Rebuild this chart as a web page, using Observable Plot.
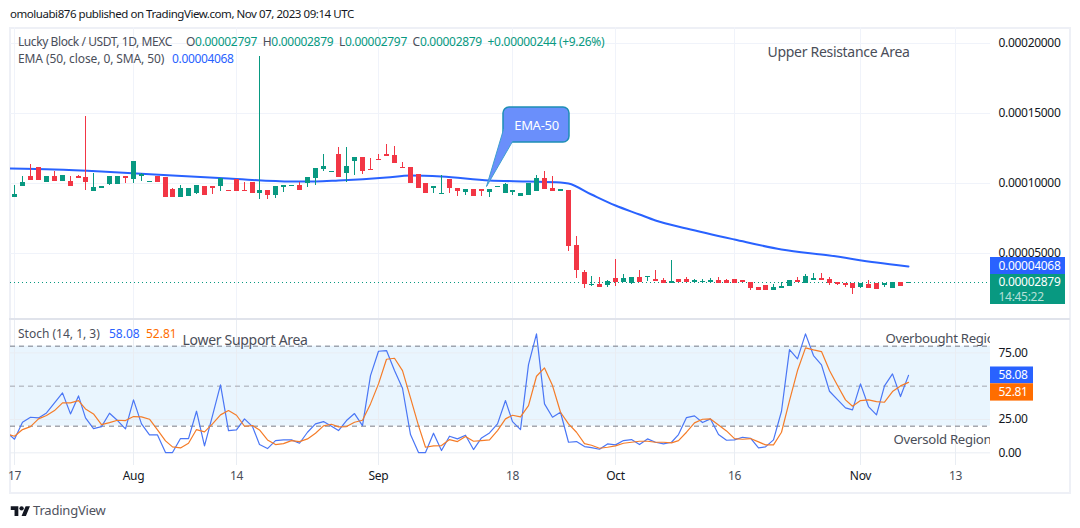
<!DOCTYPE html>
<html>
<head>
<meta charset="utf-8">
<script src="https://cdn.jsdelivr.net/npm/d3@7"></script>
<script src="https://cdn.jsdelivr.net/npm/@observablehq/plot@0.6"></script>
<style>
html,body{margin:0;padding:0;background:#fff;width:1080px;height:528px;overflow:hidden}
body{font-family:"Noto Sans",sans-serif;color:#131722;position:relative}
.abs{position:absolute;white-space:pre;line-height:16px}
svg{background:transparent !important}
</style>
</head>
<body>
<div class="abs" style="left:10px;top:6px;font-size:11.5px;letter-spacing:-0.45px;color:#131722">omoluabi876 published on TradingView.com, Nov 07, 2023 09:14 UTC</div>
<div id="frame" style="position:absolute;left:9px;top:27px;width:1058px;height:463px;border:2px solid #eef0f6"></div>
<div id="p1"></div>
<div id="p2"></div>
<div class="abs" style="left:18px;top:34px;font-size:12px;letter-spacing:-0.42px;color:#4a4e59">Lucky Block / USDT, 1D, MEXC</div>
<div class="abs" style="left:186px;top:34px;font-size:12px;letter-spacing:-0.3px;color:#089981"><span style="color:#4a4e59">O</span>0.00002797  <span style="color:#4a4e59">H</span>0.00002879  <span style="color:#4a4e59">L</span>0.00002797  <span style="color:#4a4e59">C</span>0.00002879  +0.00000244 (+9.26%)</div>
<div class="abs" style="left:18px;top:51px;font-size:12px;letter-spacing:-0.1px;color:#4a4e59">EMA (50, close, 0, SMA, 50)</div>
<div class="abs" style="left:172px;top:51px;font-size:12px;letter-spacing:-0.35px;color:#2962ff">0.00004068</div>
<div class="abs" style="left:18px;top:326px;font-size:12px;color:#4a4e59">Stoch (14, 1, 3)</div>
<div class="abs" style="left:109px;top:326px;font-size:12px;color:#2962ff">58.08</div>
<div class="abs" style="left:146px;top:326px;font-size:12px;color:#ff6d00">52.81</div>
<svg style="position:absolute;left:10px;top:504px" width="21" height="13" viewBox="0 0 36 24"><path fill="#131722" d="M14 22H7V11H0V4h14v18zM28 22h-8l7.5-18h8L28 22z"/><circle fill="#131722" cx="20" cy="8" r="4"/></svg>
<div class="abs" style="left:33px;top:502px;font-size:13px;letter-spacing:-0.2px;color:#50535e">TradingView</div>
<script>
// Candles, in units of 0.00001 USDT, one per day from 2023-07-17
const opens = [
9.01,9.80,10.49,11.14,10.09,10.49,10.16,10.11,10.49,10.42,
9.44,9.66,9.92,9.92,10.49,10.28,10.49,10.06,10.49,10.45,
9.56,9.01,9.06,9.27,9.78,9.78,9.78,9.49,10.28,9.49,
10.06,9.27,9.49,9.16,9.71,9.78,9.85,9.99,10.35,11.00,
10.81,12.07,10.71,11.57,11.86,11.00,11.71,12.07,12.00,11.14,
11.14,10.64,9.99,9.63,9.20,10.28,9.63,9.35,9.56,9.56,
9.35,9.71,9.27,9.35,9.06,9.13,9.42,10.35,9.63,9.42,
9.49,5.54,3.61,2.68,2.75,2.70,3.17,2.89,2.84,3.25,
3.25,3.10,3.03,2.82,3.10,3.10,2.89,2.89,2.89,3.03,
3.03,3.10,3.03,2.89,2.53,2.67,2.31,2.46,2.60,3.03,
2.82,3.03,3.17,3.10,2.89,2.82,2.82,2.53,2.74,2.82,
2.67,2.46,2.89,2.797];
const closes = [
9.20,10.06,10.21,10.21,10.49,10.16,10.57,9.80,10.37,10.09,
9.71,9.75,10.49,10.49,10.37,11.57,10.66,10.14,10.06,9.01,
9.01,9.61,9.63,9.82,9.16,9.66,10.37,9.42,9.44,9.42,
9.27,9.49,9.16,9.78,9.85,9.85,9.49,10.42,11.07,11.21,
10.88,10.42,11.21,11.86,10.85,10.92,11.64,11.93,11.43,11.07,
9.99,9.63,9.27,9.78,9.27,9.63,9.42,9.56,9.06,9.42,
9.56,9.78,9.92,9.49,9.27,9.99,10.35,9.56,9.42,9.56,
5.47,3.75,2.75,2.75,2.53,2.98,2.89,3.17,3.25,2.89,
3.32,2.96,2.82,2.96,2.89,2.89,3.03,2.96,3.03,2.82,
2.82,2.82,2.89,2.46,2.31,2.31,2.53,2.60,3.03,2.89,
3.32,3.17,3.03,2.82,2.74,2.67,2.46,2.82,2.46,2.38,
2.82,2.89,2.60,2.879];
const highs = [
9.85,10.49,11.36,11.14,10.49,10.88,10.57,10.49,10.57,14.80,
10.73,9.75,10.49,10.49,10.49,11.57,10.73,10.14,10.49,10.45,
9.61,9.85,9.63,9.82,9.78,9.78,10.37,9.49,10.28,10.09,
10.06,19.10,9.49,9.78,9.85,9.85,10.09,10.42,11.07,12.07,
10.88,12.58,12.58,11.86,11.86,11.79,12.07,12.79,12.65,11.50,
11.14,10.64,9.99,9.78,10.57,10.28,9.63,9.56,9.56,9.56,
9.56,9.78,9.99,9.49,9.27,9.99,10.57,10.85,10.49,9.56,
9.49,6.19,3.75,3.32,3.25,3.05,4.54,3.46,3.25,3.75,
3.32,3.75,3.17,4.47,3.10,3.25,3.10,3.10,3.17,3.25,
3.10,3.10,3.03,2.89,2.53,2.67,2.74,2.89,3.03,3.25,
3.46,3.53,3.53,3.25,2.89,2.82,2.82,2.82,3.03,2.82,
2.82,2.89,2.89,2.879];
const lows = [
9.01,9.80,10.21,10.21,10.09,10.16,10.16,9.80,10.37,9.49,
9.44,9.66,9.82,9.92,10.02,10.02,10.14,10.06,10.06,9.01,
9.01,9.01,9.06,9.20,9.16,9.20,9.44,9.42,9.44,9.42,
9.27,8.84,8.84,8.92,9.35,9.78,9.49,9.71,9.85,10.85,
10.81,10.42,10.06,10.57,10.64,10.92,11.64,11.93,11.43,11.07,
9.99,9.63,9.27,9.27,9.20,9.27,9.06,9.13,9.06,9.06,
8.99,9.71,9.27,9.13,9.06,9.13,9.42,9.56,9.42,9.42,
5.11,3.18,2.46,2.60,2.53,2.55,2.62,2.89,2.77,2.89,
2.96,2.96,2.82,2.82,2.89,2.89,2.84,2.84,2.84,2.82,
2.82,2.82,2.89,2.31,2.31,2.31,2.31,2.46,2.60,2.89,
2.82,3.03,3.03,2.67,2.67,2.53,2.03,2.46,2.46,2.38,
2.53,2.46,2.60,2.797];
// EMA waypoints: day offset from 2023-07-17, value
const emaDays = [-0.6,5,11,20,27,35,38,41,47,50,54,60,65,69,70,73,76,79,81,85,91,97,103,109,113];
const emaValues = [11.09,11.0,10.88,10.60,10.35,10.14,10.10,10.24,10.42,10.57,10.49,10.21,10.11,10.09,9.96,9.17,8.45,7.79,7.35,6.74,5.98,5.26,4.83,4.36,4.068];
// Stochastic, one value per day from 2023-07-16
const stochK = [
15.45,10.2,22.95,26.7,26.2,29.95,37.45,44.95,29.2,42.7,26.2,18.2,19.7,29.7,24.2,17.95,39.7,21.7,13.45,13.45,0.2,0.2,10.7,10.7,31.2,5.2,27.95,50.95,16.7,17.2,25.45,19.7,6.2,3.2,9.2,9.7,9.7,7.2,15.45,21.7,23.45,19.95,16.7,
24.2,29.45,20.45,57.95,76.2,76.7,61.7,48.45,13.7,0.2,0.2,14.7,1.7,12.45,10.45,13.2,2.45,11.2,14.95,21.7,39.2,23.45,17.45,66.2,89.2,36.7,26.7,30.45,7.95,8.45,4.7,3.95,2.7,6.7,5.95,9.2,9.95,6.2,10.45,7.95,6.7,
7.95,13.7,26.45,27.7,22.7,25.45,13.7,9.45,9.7,11.7,10.95,3.7,4.45,9.7,31.2,77.45,70.45,89.2,72.95,65.95,46.2,39.95,33.7,32.2,51.7,34.7,28.45,50.2,59.2,42.2,58.08];
const stochD = [
14.2,12.45,17.45,19.7,25.45,27.95,31.7,37.45,37.45,39.2,32.95,29.2,21.2,22.7,24.45,24.2,27.2,26.95,25.2,17.2,8.95,4.45,3.7,7.2,17.45,15.7,21.7,28.45,31.7,28.2,19.95,20.45,17.2,9.7,6.2,6.95,9.2,8.45,10.45,14.7,20.2,21.45,19.45,
19.7,22.95,24.45,36.7,51.7,70.2,70.95,61.7,41.2,20.45,4.2,5.2,5.45,9.95,8.45,12.2,8.7,9.2,9.7,16.7,25.45,28.2,26.95,35.45,57.45,63.7,50.45,30.45,21.7,15.45,6.95,5.7,3.45,4.2,5.2,7.2,7.95,8.7,8.7,7.95,7.95,
7.45,9.2,15.45,22.45,25.2,25.45,20.95,16.45,10.7,10.2,10.7,8.2,5.95,5.95,15.45,39.2,61.7,78.7,77.2,75.95,61.7,50.45,39.7,34.95,39.2,39.7,38.45,37.95,45.95,50.2,52.81];
// Axis ticks
const tickDays = [0,15,28,46,63,76,91,107,119];
const tickLabels = ["17","Aug","14","Sep","18","Oct","16","Nov","13"];
const priceTicks = [5,10,15,20];
const stochTicks = [0,25,75];
const stochLevels = [80,20];
// Annotations
const priceNotes = [{day:95.2,value:19.39,text:"Upper Resistance Area"}];
const stochNotes = [{day:21.2,value:84.2,text:"Lower Support Area"}];
const stochEdgeNotes = [
  {day:110.1,value:85.7,text:"Overbought Region"},
  {day:111.1,value:10,text:"Oversold Region"}];

const green="#089981", red="#f23645", blue="#2962ff", orange="#ff6d00";
const date = d => new Date(Date.UTC(2023,6,17)+d*864e5);
const xDomain = [date(-0.544), date(123.4)];
const idx = d3.range(opens.length);
const up = i => closes[i] >= opens[i] ? green : red;
const font = '"Noto Sans",sans-serif';
const ticksD = tickDays.map((d,i)=>({d:date(d),label:tickLabels[i],month:isNaN(+tickLabels[i])}));

const tail = [[61.8,13.9],[59.65,9.78],[62.9,12.97]];
const price = Plot.plot({
  width:1080,height:291,marginLeft:10,marginRight:90,marginTop:0,marginBottom:0,
  style:{position:"absolute",left:"0px",top:"27px",fontFamily:font,overflow:"visible",letterSpacing:"-0.3px"},
  x:{type:"utc",domain:xDomain,axis:null,round:true},
  y:{domain:[0.31,21.18],round:true},
  marks:[
    Plot.ruleX(ticksD,{x:"d",stroke:"#f0f3fa"}),
    Plot.ruleY(priceTicks,{stroke:"#f0f3fa"}),
    Plot.axisY({anchor:"right",ticks:priceTicks,tickSize:0,tickPadding:8,label:null,fontSize:12,fill:"#131722",tickFormat:v=>(v/1e5).toFixed(8)}),
    Plot.ruleY([closes[closes.length-1]],{stroke:green,strokeDasharray:"1,3",strokeWidth:1}),
    Plot.line(emaDays.map((d,i)=>[date(d),emaValues[i]]),{x:"0",y:"1",stroke:blue,strokeWidth:2,curve:"monotone-x",clip:true}),
    Plot.ruleX(idx,{x:i=>date(i),y1:i=>lows[i],y2:i=>highs[i],stroke:up,strokeWidth:1}),
    Plot.ruleX(idx,{x:i=>date(i),y1:i=>opens[i],y2:i=>closes[i],stroke:up,strokeWidth:5}),
    Plot.text(priceNotes,{x:d=>date(d.day),y:"value",text:"text",textAnchor:"start",fill:"#4a4e59",fontSize:14}),
    // callout
    Plot.rect([{a:61.8,b:70.15,t:15.41,l:12.93}],{x1:d=>date(d.a),x2:d=>date(d.b),y1:"l",y2:"t",fill:"#6a8ffb",stroke:"#1e8fb5",strokeWidth:1.5,rx:6}),
    Plot.line(tail,{x:d=>date(d[0]),y:"1",fill:"#6a8ffb",stroke:"none"}),
    Plot.line(tail,{x:d=>date(d[0]),y:"1",stroke:"#3d9fd0",strokeWidth:1}),
    Plot.text(["EMA-50"],{x:date(65.95),y:14.17,fill:"#fff",fontSize:13}),
    // axis tags
    Plot.rect([4.068],{x1:date(123.4),x2:date(132.9),y1:d=>d-0.6,y2:d=>d+0.6,fill:blue}),
    Plot.rect([2.879],{x1:date(123.4),x2:date(132.9),y1:1.28,y2:3.47,fill:green}),
    Plot.text(["0.00004068"],{x:date(124.4),y:4.068,fill:"#fff",fontSize:12,textAnchor:"start"}),
    Plot.text(["0.00002879"],{x:date(124.4),y:2.879,fill:"#fff",fontSize:12,textAnchor:"start"}),
    Plot.text(["14:45:22"],{x:date(124.4),y:1.81,fill:"#b6e0d8",fontSize:12,textAnchor:"start"})
  ]
});
document.getElementById("p1").append(price);

const stochIdx = d3.range(stochK.length);
const stoch = Plot.plot({
  width:1080,height:175,marginLeft:10,marginRight:90,marginTop:0,marginBottom:28,
  style:{position:"absolute",left:"0px",top:"318px",fontFamily:font,overflow:"visible",letterSpacing:"-0.3px"},
  x:{type:"utc",domain:xDomain,axis:null,round:true},
  y:{domain:[-9.5,100.75]},
  marks:[
    Plot.rectY([0],{x1:xDomain[0],x2:xDomain[1],y1:stochLevels[1],y2:stochLevels[0],fill:"#e9f5fe"}),
    Plot.ruleX(ticksD,{x:"d",stroke:"#e9edf3"}),
    Plot.ruleY(stochTicks,{stroke:"#e9edf3"}),
    Plot.ruleY(stochLevels,{stroke:"#787b86",strokeDasharray:"5,4"}),
    Plot.ruleY([50],{stroke:"#a3a6af",strokeDasharray:"5,4"}),
    Plot.axisY({anchor:"right",ticks:[0,25,75],tickSize:0,tickPadding:8,label:null,fontSize:12,fill:"#131722",tickFormat:v=>v.toFixed(2)}),
    Plot.line(stochIdx,{x:i=>date(i-1),y:i=>stochK[i],stroke:"#4a76f5",strokeWidth:1.2,clip:true}),
    Plot.line(stochIdx,{x:i=>date(i-1),y:i=>stochD[i],stroke:"#f57c28",strokeWidth:1.2,clip:true}),
    Plot.text(stochNotes,{x:d=>date(d.day),y:"value",text:"text",textAnchor:"start",fill:"#4a4e59",fontSize:14,clip:true}),
    Plot.text(stochEdgeNotes,{x:d=>date(d.day),y:"value",text:"text",textAnchor:"start",fill:"#4a4e59",fontSize:13.2,clip:true}),
    Plot.text(ticksD.filter(d=>d.month),{x:"d",text:"label",frameAnchor:"bottom",dy:14,fill:"#131722",fontSize:12}),
    Plot.text(ticksD.filter(d=>!d.month),{x:"d",text:"label",frameAnchor:"bottom",dy:14,fill:"#4a4e59",fontSize:12}),
    Plot.rect([58.08],{x1:date(123.4),x2:date(128.8),y1:d=>d-6.3,y2:d=>d+6.3,fill:blue}),
    Plot.rect([45.3],{x1:date(123.4),x2:date(128.8),y1:d=>d-6.5,y2:d=>d+6.5,fill:orange}),
    Plot.text(["58.08"],{x:date(124.4),y:58.08,fill:"#fff",fontSize:12,textAnchor:"start"}),
    Plot.text(["52.81"],{x:date(124.4),y:45.3,fill:"#fff",fontSize:12,textAnchor:"start"})
  ]
});
document.getElementById("p2").append(stoch);
</script>
<div style="position:absolute;left:9px;top:318px;width:1061px;height:2px;background:#e0e3eb"></div>
</body>
</html>
